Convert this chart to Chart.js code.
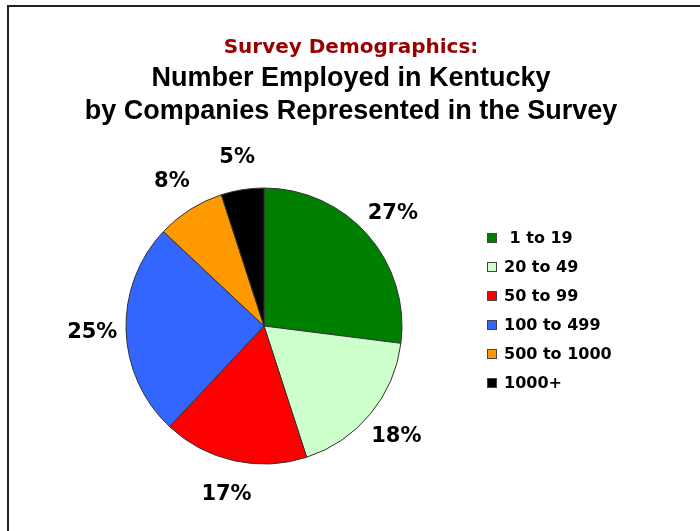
<!DOCTYPE html>
<html>
<head>
<meta charset="utf-8">
<title>Survey Demographics</title>
<script src="https://cdn.jsdelivr.net/npm/chart.js@4.4.0/dist/chart.umd.min.js"></script>
<style>
  html, body { margin: 0; padding: 0; background: #ffffff; }
  #wrap { width: 700px; height: 531px; }
  canvas { display: block; }
</style>
</head>
<body>
<div id="wrap"><canvas id="chart" width="700" height="531"></canvas></div>
<script>
// Size classes (employees in Kentucky) and their share of responding companies, in percent
const categories = [' 1 to 19', '20 to 49', '50 to 99', '100 to 499', '500 to 1000', '1000+'];
const shares = [27, 18, 17, 25, 8, 5];
const sliceColors = ['#008000', '#CCFFCC', '#FF0000', '#3366FF', '#FF9900', '#000000'];

const headline = 'Survey Demographics:';
const subheadLines = ['Number Employed in Kentucky', 'by Companies Represented in the Survey'];

const LABEL_FONT = 'bold 21px "DejaVu Sans"';
const LEGEND_FONT = 'bold 16px "DejaVu Sans"';
const LEGEND_X = 487;
const LEGEND_TOP = 238;
const LEGEND_ROW = 29;
const LEGEND_BOX = 10;
const PANEL_WIDTH = 174;

// White page with the dark frame along the top and left edges
const framePlugin = {
  id: 'frame',
  beforeDraw(chart) {
    const ctx = chart.ctx;
    ctx.save();
    ctx.fillStyle = '#ffffff';
    ctx.fillRect(0, 0, chart.width, chart.height);
    ctx.fillStyle = '#222222';
    ctx.fillRect(7, 5, 2, chart.height - 5);
    ctx.fillRect(7, 5, chart.width - 7, 2);
    ctx.restore();
  }
};

// Reserves room on the right for the key and draws it there
const keyPanel = {
  id: 'keyPanel',
  beforeInit(chart) {
    const box = {
      position: 'right', weight: 0, fullSize: false,
      options: {},
      left: 0, top: 0, right: 0, bottom: 0, width: 0, height: 0,
      isHorizontal() { return false; },
      update(maxWidth, maxHeight) { this.width = PANEL_WIDTH; this.height = maxHeight; },
      getPadding() { return { left: 0, top: 0, right: 0, bottom: 0 }; },
      draw() {}
    };
    Chart.layouts.addBox(chart, box);
  },
  afterDraw(chart) {
    const ctx = chart.ctx;
    const ds = chart.data.datasets[0];
    ctx.save();
    ctx.font = LEGEND_FONT;
    ctx.textAlign = 'left';
    ctx.textBaseline = 'middle';
    chart.data.labels.forEach((label, i) => {
      const y = LEGEND_TOP + i * LEGEND_ROW;
      ctx.fillStyle = ds.backgroundColor[i];
      ctx.fillRect(LEGEND_X, y - LEGEND_BOX / 2, LEGEND_BOX, LEGEND_BOX);
      ctx.strokeStyle = '#444444';
      ctx.lineWidth = 1;
      ctx.strokeRect(LEGEND_X + 0.5, y - LEGEND_BOX / 2 + 0.5, LEGEND_BOX - 1, LEGEND_BOX - 1);
      ctx.fillStyle = '#000000';
      ctx.fillText(label, LEGEND_X + 17, y + 1);
    });
    ctx.restore();
  }
};

// Percentage labels outside each slice, along the slice's middle angle
const sliceLabels = {
  id: 'sliceLabels',
  afterDatasetsDraw(chart) {
    const ctx = chart.ctx;
    const meta = chart.getDatasetMeta(0);
    const values = chart.data.datasets[0].data;
    ctx.save();
    ctx.font = LABEL_FONT;
    ctx.fillStyle = '#000000';
    ctx.textAlign = 'center';
    ctx.textBaseline = 'middle';
    meta.data.forEach((arc, i) => {
      const p = arc.getProps(['x', 'y', 'startAngle', 'endAngle', 'outerRadius'], true);
      const mid = (p.startAngle + p.endAngle) / 2;
      const r = p.outerRadius * 1.245;
      ctx.fillText(values[i] + '%', p.x + Math.cos(mid) * r, p.y + Math.sin(mid) * r + 1);
    });
    ctx.restore();
  }
};

new Chart(document.getElementById('chart'), {
  type: 'pie',
  data: {
    labels: categories,
    datasets: [{
      data: shares,
      backgroundColor: sliceColors,
      borderColor: '#333333',
      borderWidth: 1
    }]
  },
  options: {
    responsive: false,
    devicePixelRatio: 1,
    animation: false,
    events: [],
    layout: { padding: { left: 2, right: 0, top: 0, bottom: 66.5 } },
    plugins: {
      legend: { display: false },
      tooltip: { enabled: false },
      title: {
        display: true,
        text: headline,
        color: '#990000',
        font: { family: '"DejaVu Sans"', size: 20, weight: 'bold', lineHeight: 1.2 },
        padding: { top: 36, bottom: 0 }
      },
      subtitle: {
        display: true,
        text: subheadLines,
        color: '#000000',
        font: { family: '"Liberation Sans", Arial, sans-serif', size: 27, weight: 'bold', lineHeight: 33 / 27 },
        padding: { top: 2.5, bottom: 59 }
      }
    }
  },
  plugins: [framePlugin, keyPanel, sliceLabels]
});
</script>
</body>
</html>
